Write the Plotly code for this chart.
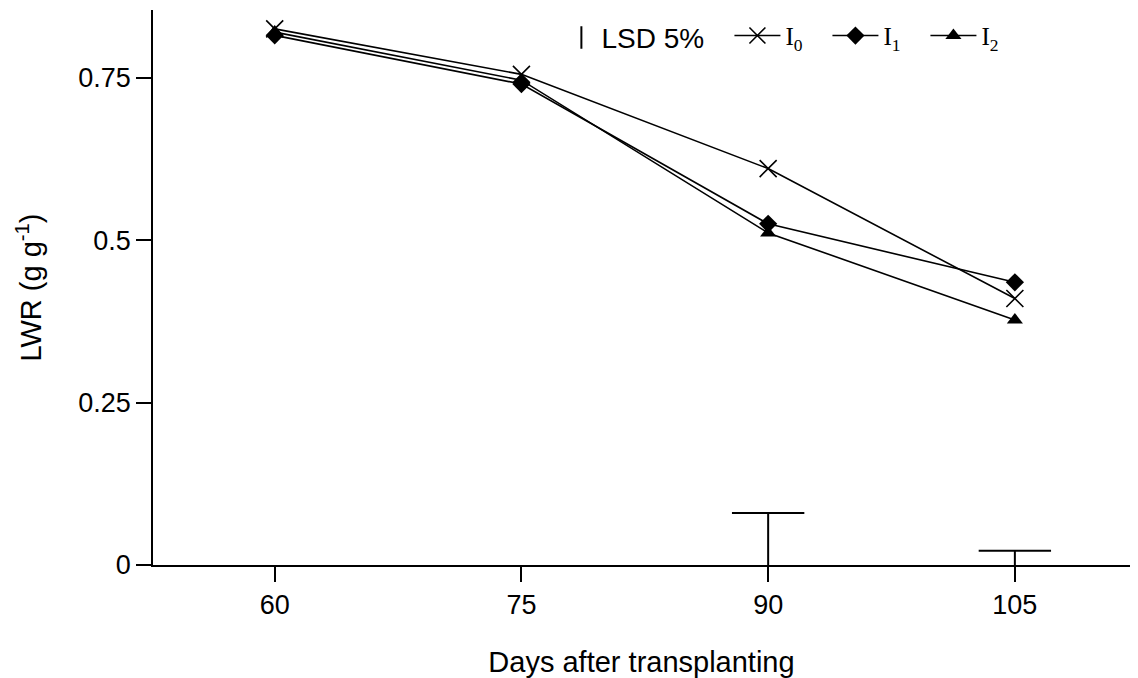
import plotly.graph_objects as go

days = [60, 75, 90, 105]
i0 = [0.825, 0.755, 0.610, 0.410]
i1 = [0.815, 0.740, 0.525, 0.435]
i2 = [0.820, 0.746, 0.511, 0.377]
lsd_days = [90, 105]
lsd_vals = [0.080, 0.022]
ytick_vals = [0, 0.25, 0.5, 0.75]
ytick_text = ["0", "0.25", "0.5", "0.75"]

fig = go.Figure()

# legend-only LSD entry
fig.add_trace(go.Scatter(
    x=[None], y=[None], mode="markers",
    marker=dict(symbol="line-ns-open", size=18, color="black", line=dict(width=2, color="black")),
    name="LSD 5%", showlegend=True, legend="legend"))

# LSD bars: vertical stem down to zero, horizontal cap on top
fig.add_trace(go.Scatter(
    x=lsd_days, y=lsd_vals, mode="markers",
    marker=dict(size=1, color="rgba(0,0,0,0)"),
    error_y=dict(type="data", symmetric=False, array=[0, 0], arrayminus=lsd_vals,
                 color="black", thickness=2, width=0),
    error_x=dict(type="data", symmetric=True, array=[2.2, 2.2],
                 color="black", thickness=2, width=0),
    showlegend=False, hoverinfo="skip"))

fig.add_trace(go.Scatter(
    x=days, y=i0, mode="lines+markers", name="I<sub>0</sub>", legend="legend2",
    line=dict(color="black", width=1.6),
    marker=dict(symbol="x-thin-open", size=17, color="black", line=dict(width=1.6, color="black"))))
fig.add_trace(go.Scatter(
    x=days, y=i1, mode="lines+markers", name="I<sub>1</sub>", legend="legend2",
    line=dict(color="black", width=1.6),
    marker=dict(symbol="diamond", size=14, color="black")))
fig.add_trace(go.Scatter(
    x=days, y=i2, mode="lines+markers", name="I<sub>2</sub>", legend="legend2",
    line=dict(color="black", width=1.6),
    marker=dict(symbol="triangle-up", size=14, color="black")))

fig.update_layout(
    width=1138, height=678,
    margin=dict(l=153, r=8, t=10, b=113, autoexpand=False),
    paper_bgcolor="white", plot_bgcolor="white",
    font=dict(family="Liberation Sans, Arial, sans-serif", size=27, color="black"),
    showlegend=True,
    legend=dict(orientation="h", x=0.418, y=0.995, xanchor="left", yanchor="top",
                font=dict(family="Liberation Sans, Arial, sans-serif", size=28),
                itemwidth=30, bgcolor="rgba(0,0,0,0)"),
    legend2=dict(orientation="h", x=0.590, y=0.995, xanchor="left", yanchor="top",
                 font=dict(family="Liberation Serif, Times New Roman, serif", size=25),
                 itemwidth=46, entrywidth=37, entrywidthmode="pixels",
                 bgcolor="rgba(0,0,0,0)"),
    xaxis=dict(range=[52.6, 112.0], tickvals=days, ticks="outside", ticklen=15,
               tickwidth=1.5, tickcolor="black", showline=True, linecolor="black",
               linewidth=1.5, showgrid=False, zeroline=False, mirror=False,
               tickfont=dict(size=27),
               title=dict(text="Days after transplanting", font=dict(size=29), standoff=40)),
    yaxis=dict(range=[0, 0.854], tickvals=ytick_vals, ticktext=ytick_text, ticks="outside",
               ticklen=15, tickwidth=1.5, tickcolor="black", showline=True, linecolor="black",
               linewidth=1.5, showgrid=False, zeroline=False,
               tickfont=dict(size=27),
               title=dict(text="LWR (g g<sup>-1</sup>)", font=dict(size=29), standoff=28)),
)

fig.write_html("out.html")
